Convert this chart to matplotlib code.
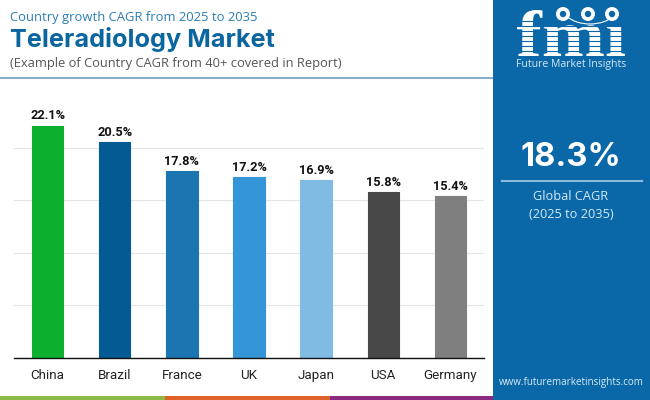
import matplotlib
matplotlib.use("Agg")
import matplotlib.pyplot as plt
from matplotlib.patches import Rectangle, Circle, Arc, PathPatch
from matplotlib.textpath import TextPath
from matplotlib.font_manager import FontProperties
from matplotlib.transforms import Affine2D

countries = ["China", "Brazil", "France", "UK", "Japan", "USA", "Germany"]
cagr = [22.1, 20.5, 17.8, 17.2, 16.9, 15.8, 15.4]
bar_colors = ["#0CAF2E", "#045A92", "#1A75B0", "#3496D9", "#7FBBE3", "#484848", "#7F7F7F"]
yticks = [0, 5, 10, 15, 20]

panel = "#0A68A8"
title_blue = "#0B66A0"

fig = plt.figure(figsize=(6.5, 4), dpi=100, facecolor="white")

# chart area
ax = fig.add_axes([14 / 650, 42 / 400, 470 / 650, 263 / 400])
ax.bar(range(7), cagr, width=0.47, color=bar_colors, edgecolor=bar_colors,
       linewidth=0.8, joinstyle="round", zorder=3)
for i, v in enumerate(cagr):
    ax.text(i, v + 0.3, f"{v}%", ha="center", va="bottom", fontsize=9.2,
            fontweight="bold", family="Roboto", color="#111111")
ax.set_xlim(-0.5, 6.5)
ax.set_ylim(0, 25)
ax.set_yticks(yticks)
ax.set_yticklabels([])
ax.set_xticks(range(7))
ax.set_xticklabels(countries, fontsize=9.6, family="Roboto", color="#222222")
ax.tick_params(axis="both", length=0)
ax.tick_params(axis="x", pad=8)
ax.grid(axis="y", color="#E4E4E4", linewidth=0.8, zorder=0)
for s in ["top", "left", "right"]:
    ax.spines[s].set_visible(False)
ax.spines["bottom"].set_color("#111111")
ax.spines["bottom"].set_linewidth(1.0)
ax.spines["bottom"].set_zorder(5)
ax.patch.set_alpha(0)

# overlay in pixel coordinates for header, panel and footer
bg = fig.add_axes([0, 0, 1, 1], zorder=-1)
bg.set_xlim(0, 650)
bg.set_ylim(400, 0)
bg.axis("off")

fg = fig.add_axes([0, 0, 1, 1], zorder=5)
fg.set_xlim(0, 650)
fg.set_ylim(400, 0)
fg.axis("off")
fg.patch.set_alpha(0)

fg.text(10, 18, "Country growth CAGR from 2025 to 2035", fontsize=9.4, family="Open Sans",
        color="#2A7DB5", va="center")
fg.text(10, 39, "Teleradiology Market", fontsize=18.2, family="Inter", fontweight="bold",
        color=title_blue, va="center")
fg.text(10, 63, "(Example of Country CAGR from 40+ covered in Report)", fontsize=9.3,
        family="Open Sans", color="#555555", va="center")
bg.plot([0, 493], [78, 78], color="#87AECB", linewidth=1.5)

# footer strip
bg.add_patch(Rectangle((0, 396), 165, 4, color="#8BBB46", lw=0))
bg.add_patch(Rectangle((165, 396), 165, 4, color="#E0622B", lw=0))
bg.add_patch(Rectangle((330, 396), 165, 4, color="#8A2A83", lw=0))

# right panel
fg.add_patch(Rectangle((493, 0), 157, 400, color=panel, lw=0, zorder=1))

# logo, fitted to its box in the panel
logo = TextPath((0, 0), "fm\u0131", size=10,
                prop=FontProperties(family="Liberation Serif", weight="bold"))
box = logo.get_extents()
fit = (Affine2D().translate(-box.x0, -box.y0)
       .scale(108 / box.width, -46 / box.height).translate(517, 56))
fg.add_patch(PathPatch(logo.transformed(fit), facecolor="white", lw=0, zorder=2))
for y in range(21, 56, 5):
    fg.plot([512, 630], [y, y], color=panel, linewidth=0.8, zorder=3)
for cx in [563, 588, 612]:
    fg.add_patch(Circle((cx, 14), 7, color="white", lw=0, zorder=4))
    fg.add_patch(Circle((cx, 14), 3.2, color=panel, lw=0, zorder=5))
fg.add_patch(Arc((590, 5), 58, 38, theta1=25, theta2=155, color="white", lw=0.8, zorder=4))
fg.text(571, 65, "Future Market Insights", fontsize=7.6, family="Open Sans",
        color="#D5E8F5", ha="center", va="center", zorder=4)

# global figure
fg.text(571, 157, "18.3%", fontsize=23.5, family="Inter", fontweight="bold", color="white",
        ha="center", va="center", zorder=4)
fg.plot([502, 642], [181, 181], color="#8DBBDD", linewidth=1.5, zorder=4)
fg.text(571, 197, "Global CAGR", fontsize=9.2, family="Open Sans", color="#D5E8F5",
        ha="center", va="center", zorder=4)
fg.text(571, 214, "(2025 to 2035)", fontsize=9.2, family="Open Sans", color="#D5E8F5",
        ha="center", va="center", zorder=4)
fg.text(571, 383, "www.futuremarketinsights.com", fontsize=7.1, family="Open Sans",
        color="#D5E8F5", ha="center", va="center", zorder=4)

fig.savefig("out.png", dpi=100)
